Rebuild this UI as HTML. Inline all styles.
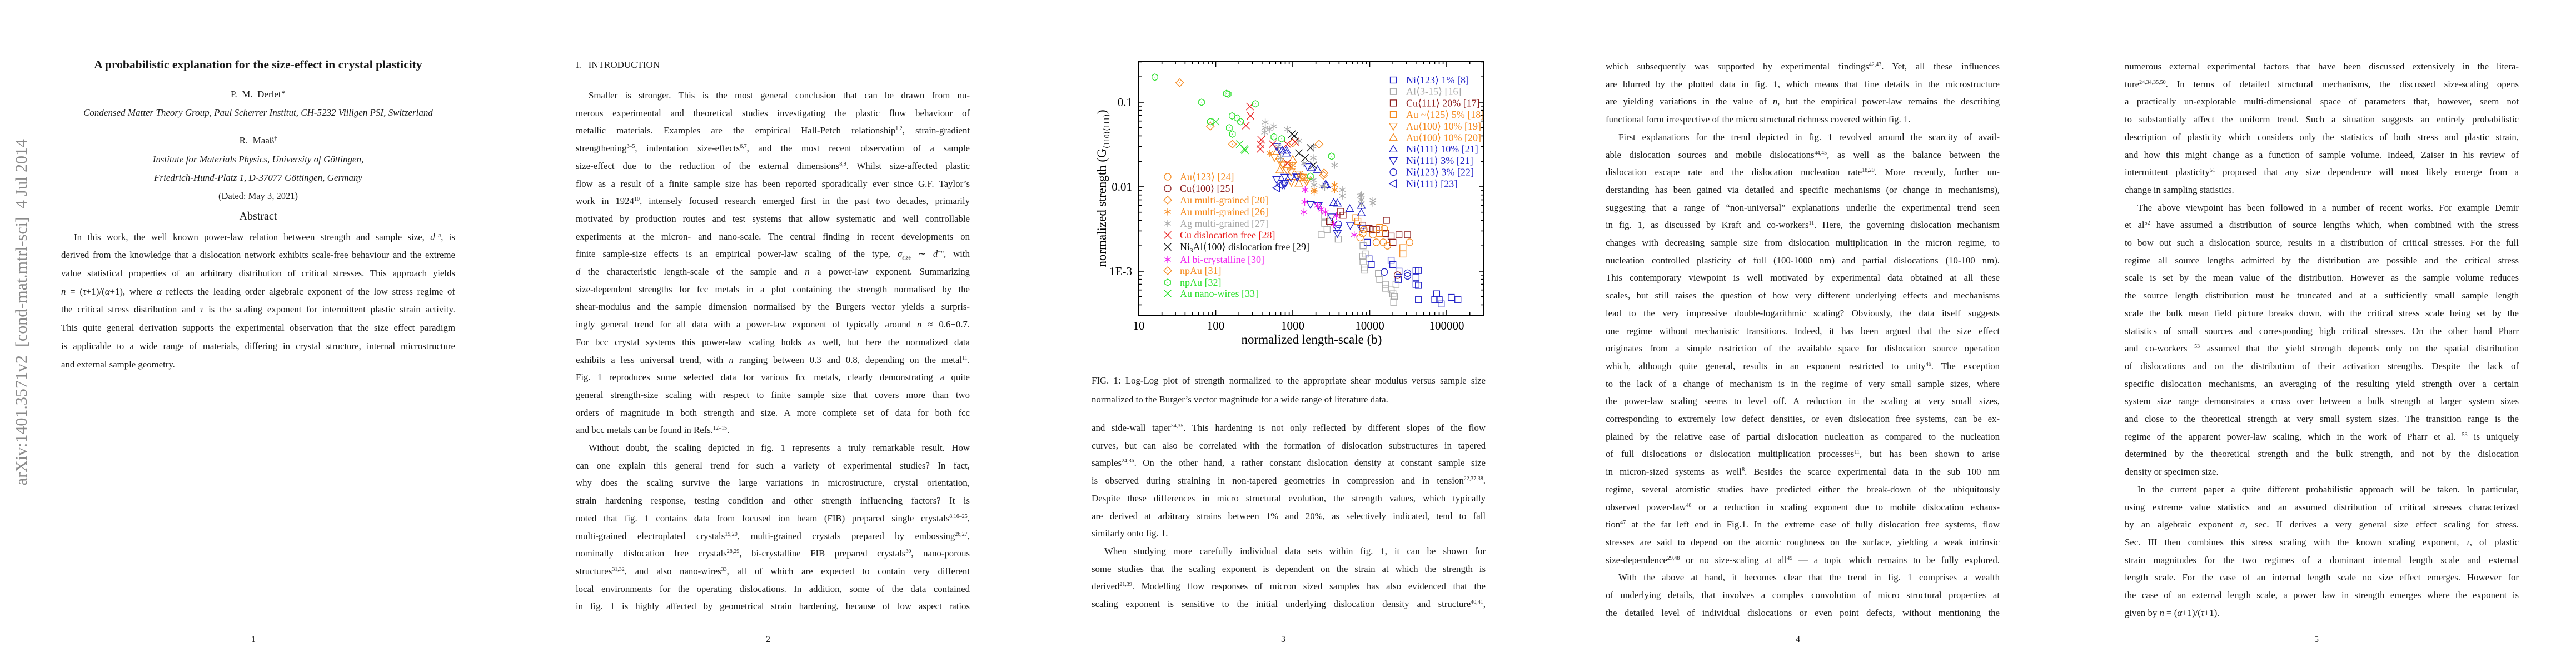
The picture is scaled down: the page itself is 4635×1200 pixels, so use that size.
<!DOCTYPE html>
<html>
<head>
<meta charset="utf-8">
<style>
  html,body{margin:0;padding:0;background:#fff;}
  body{width:4635px;height:1200px;position:relative;overflow:hidden;font-family:"Liberation Serif",serif;color:#1a1a1a;}
  .abs{position:absolute;}
  .col{position:absolute;width:709px;font-size:16.8px;}
  .col div{white-space:nowrap;text-align:justify;text-align-last:justify;}
  .col div.end{text-align-last:left;}
  .col div.ind{padding-left:23px;}
  sup{font-size:10px;line-height:0;vertical-align:6px;}
  .ctr{position:absolute;width:709px;text-align:center;white-space:nowrap;}
  .pn{position:absolute;top:1142px;font-size:16px;width:20px;text-align:center;}
  svg text{font-family:"Liberation Serif",serif;}
</style>
</head>
<body>

<div class="abs" style="left:22px;top:250px;writing-mode:vertical-rl;transform:rotate(180deg);font-size:30px;color:#8a8a8a;white-space:nowrap;">arXiv:1401.3571v2&nbsp;&nbsp;[cond-mat.mtrl-sci]&nbsp;&nbsp;4 Jul 2014</div>

<div class="ctr" style="left:110px;top:104px;font-size:21.5px;font-weight:bold;">A probabilistic explanation for the size-effect in crystal plasticity</div>
<div class="ctr" style="left:110px;top:160px;font-size:17px;">P.&nbsp; M.&nbsp; Derlet<sup>∗</sup></div>
<div class="ctr" style="left:110px;top:193px;font-size:17px;font-style:italic;">Condensed Matter Theory Group, Paul Scherrer Institut, CH-5232 Villigen PSI, Switzerland</div>
<div class="ctr" style="left:110px;top:243px;font-size:17px;">R.&nbsp; Maaß<sup>†</sup></div>
<div class="ctr" style="left:110px;top:277px;font-size:17px;font-style:italic;">Institute for Materials Physics, University of Göttingen,</div>
<div class="ctr" style="left:110px;top:310px;font-size:17px;font-style:italic;">Friedrich-Hund-Platz 1, D-37077 Göttingen, Germany</div>
<div class="ctr" style="left:110px;top:343px;font-size:16.5px;">(Dated: May 3, 2021)</div>
<div class="ctr" style="left:110px;top:378px;font-size:20px;">Abstract</div>

<div class="col" style="left:110px;top:410.6px;line-height:32.7px;">
<div class="ind">In this work, the well known power-law relation between strength and sample size, <i>d</i><sup>−<i>n</i></sup>, is</div>
<div>derived from the knowledge that a dislocation network exhibits scale-free behaviour and the extreme</div>
<div>value statistical properties of an arbitrary distribution of critical stresses. This approach yields</div>
<div><i>n</i> = (<i>τ</i>+1)/(<i>α</i>+1), where <i>α</i> reflects the leading order algebraic exponent of the low stress regime of</div>
<div>the critical stress distribution and <i>τ</i> is the scaling exponent for intermittent plastic strain activity.</div>
<div>This quite general derivation supports the experimental observation that the size effect paradigm</div>
<div>is applicable to a wide range of materials, differing in crystal structure, internal microstructure</div>
<div class="end">and external sample geometry.</div>
</div>
<div class="pn" style="left:446px;">1</div>

<div class="abs" style="left:1036px;top:107px;font-size:17px;white-space:nowrap;">I.&nbsp;&nbsp; INTRODUCTION</div>
<div class="col" style="left:1036px;top:156px;line-height:31.7px;">
<div class="ind">Smaller is stronger. This is the most general conclusion that can be drawn from nu-</div>
<div>merous experimental and theoretical studies investigating the plastic flow behaviour of</div>
<div>metallic materials. Examples are the empirical Hall-Petch relationship<sup>1,2</sup>, strain-gradient</div>
<div>strengthening<sup>3–5</sup>, indentation size-effects<sup>6,7</sup>, and the most recent observation of a sample</div>
<div>size-effect due to the reduction of the external dimensions<sup>8,9</sup>. Whilst size-affected plastic</div>
<div>flow as a result of a finite sample size has been reported sporadically ever since G.F. Taylor’s</div>
<div>work in 1924<sup>10</sup>, intensely focused research emerged first in the past two decades, primarily</div>
<div>motivated by production routes and test systems that allow systematic and well controllable</div>
<div>experiments at the micron- and nano-scale. The central finding in recent developments on</div>
<div>finite sample-size effects is an empirical power-law scaling of the type, <i>σ</i><sub style="font-size:10px;line-height:0">size</sub> ∼ <i>d</i><sup>−<i>n</i></sup>, with</div>
<div><i>d</i> the characteristic length-scale of the sample and <i>n</i> a power-law exponent. Summarizing</div>
<div>size-dependent strengths for fcc metals in a plot containing the strength normalised by the</div>
<div>shear-modulus and the sample dimension normalised by the Burgers vector yields a surpris-</div>
<div>ingly general trend for all data with a power-law exponent of typically around <i>n</i> ≈ 0.6−0.7.</div>
<div>For bcc crystal systems this power-law scaling holds as well, but here the normalized data</div>
<div>exhibits a less universal trend, with <i>n</i> ranging between 0.3 and 0.8, depending on the metal<sup>11</sup>.</div>
<div>Fig. 1 reproduces some selected data for various fcc metals, clearly demonstrating a quite</div>
<div>general strength-size scaling with respect to finite sample size that covers more than two</div>
<div>orders of magnitude in both strength and size. A more complete set of data for both fcc</div>
<div class="end">and bcc metals can be found in Refs.<sup>12–15</sup>.</div>
<div class="ind">Without doubt, the scaling depicted in fig. 1 represents a truly remarkable result. How</div>
<div>can one explain this general trend for such a variety of experimental studies? In fact,</div>
<div>why does the scaling survive the large variations in microstructure, crystal orientation,</div>
<div>strain hardening response, testing condition and other strength influencing factors? It is</div>
<div>noted that fig. 1 contains data from focused ion beam (FIB) prepared single crystals<sup>8,16–25</sup>,</div>
<div>multi-grained electroplated crystals<sup>19,20</sup>, multi-grained crystals prepared by embossing<sup>26,27</sup>,</div>
<div>nominally dislocation free crystals<sup>28,29</sup>, bi-crystalline FIB prepared crystals<sup>30</sup>, nano-porous</div>
<div>structures<sup>31,32</sup>, and also nano-wires<sup>33</sup>, all of which are expected to contain very different</div>
<div>local environments for the operating dislocations. In addition, some of the data contained</div>
<div>in fig. 1 is highly affected by geometrical strain hardening, because of low aspect ratios</div>
</div>
<div class="pn" style="left:1372px;">2</div>

<svg class="abs" id="chart" style="left:0;top:0;" width="4635" height="1200" viewBox="0 0 4635 1200">
  <g id="ticks"></g>
  <g id="marks"></g>
  <rect x="2049" y="111" width="621" height="456" fill="none" stroke="#000" stroke-width="2"/>
  <g id="ylabels" font-size="21" text-anchor="end"></g>
  <g id="xlabels" font-size="21" text-anchor="middle"></g>
  <text x="2360" y="618" font-size="23" text-anchor="middle">normalized length-scale (b)</text>
  <text transform="translate(1990,339) rotate(-90)" font-size="23" text-anchor="middle">normalized strength (G<tspan font-size="14" dy="6">⟨110⟩⟨111⟩</tspan><tspan dy="-6">)</tspan></text>
  <g id="legend-left" font-size="18"></g>
  <g id="legend-right" font-size="18"></g>
</svg>

<div class="col" style="left:1964px;top:668px;line-height:34px;">
<div>FIG. 1: Log-Log plot of strength normalized to the appropriate shear modulus versus sample size</div>
<div class="end">normalized to the Burger’s vector magnitude for a wide range of literature data.</div>
</div>
<div class="col" style="left:1964px;top:754px;line-height:31.7px;">
<div>and side-wall taper<sup>34,35</sup>. This hardening is not only reflected by different slopes of the flow</div>
<div>curves, but can also be correlated with the formation of dislocation substructures in tapered</div>
<div>samples<sup>24,36</sup>. On the other hand, a rather constant dislocation density at constant sample size</div>
<div>is observed during straining in non-tapered geometries in compression and in tension<sup>22,37,38</sup>.</div>
<div>Despite these differences in micro structural evolution, the strength values, which typically</div>
<div>are derived at arbitrary strains between 1% and 20%, as selectively indicated, tend to fall</div>
<div class="end">similarly onto fig. 1.</div>
<div class="ind">When studying more carefully individual data sets within fig. 1, it can be shown for</div>
<div>some studies that the scaling exponent is dependent on the strain at which the strength is</div>
<div>derived<sup>21,39</sup>. Modelling flow responses of micron sized samples has also evidenced that the</div>
<div>scaling exponent is sensitive to the initial underlying dislocation density and structure<sup>40,41</sup>,</div>
</div>
<div class="pn" style="left:2299px;">3</div>

<div class="col" style="left:2889px;top:104px;line-height:31.7px;">
<div>which subsequently was supported by experimental findings<sup>42,43</sup>. Yet, all these influences</div>
<div>are blurred by the plotted data in fig. 1, which means that fine details in the microstructure</div>
<div>are yielding variations in the value of <i>n</i>, but the empirical power-law remains the describing</div>
<div class="end">functional form irrespective of the micro structural richness covered within fig. 1.</div>
<div class="ind">First explanations for the trend depicted in fig. 1 revolved around the scarcity of avail-</div>
<div>able dislocation sources and mobile dislocations<sup>44,45</sup>, as well as the balance between the</div>
<div>dislocation escape rate and the dislocation nucleation rate<sup>18,20</sup>. More recently, further un-</div>
<div>derstanding has been gained via detailed and specific mechanisms (or change in mechanisms),</div>
<div>suggesting that a range of “non-universal” explanations underlie the experimental trend seen</div>
<div>in fig. 1, as discussed by Kraft and co-workers<sup>11</sup>. Here, the governing dislocation mechanism</div>
<div>changes with decreasing sample size from dislocation multiplication in the micron regime, to</div>
<div>nucleation controlled plasticity of full (100-1000 nm) and partial dislocations (10-100 nm).</div>
<div>This contemporary viewpoint is well motivated by experimental data obtained at all these</div>
<div>scales, but still raises the question of how very different underlying effects and mechanisms</div>
<div>lead to the very impressive double-logarithmic scaling? Obviously, the data itself suggests</div>
<div>one regime without mechanistic transitions. Indeed, it has been argued that the size effect</div>
<div>originates from a simple restriction of the available space for dislocation source operation</div>
<div>which, although quite general, results in an exponent restricted to unity<sup>46</sup>. The exception</div>
<div>to the lack of a change of mechanism is in the regime of very small sample sizes, where</div>
<div>the power-law scaling seems to level off. A reduction in the scaling at very small sizes,</div>
<div>corresponding to extremely low defect densities, or even dislocation free systems, can be ex-</div>
<div>plained by the relative ease of partial dislocation nucleation as compared to the nucleation</div>
<div>of full dislocations or dislocation multiplication processes<sup>11</sup>, but has been shown to arise</div>
<div>in micron-sized systems as well<sup>8</sup>. Besides the scarce experimental data in the sub 100 nm</div>
<div>regime, several atomistic studies have predicted either the break-down of the ubiquitously</div>
<div>observed power-law<sup>48</sup> or a reduction in scaling exponent due to mobile dislocation exhaus-</div>
<div>tion<sup>47</sup> at the far left end in Fig.1. In the extreme case of fully dislocation free systems, flow</div>
<div>stresses are said to depend on the atomic roughness on the surface, yielding a weak intrinsic</div>
<div>size-dependence<sup>29,48</sup> or no size-scaling at all<sup>49</sup> — a topic which remains to be fully explored.</div>
<div class="ind">With the above at hand, it becomes clear that the trend in fig. 1 comprises a wealth</div>
<div>of underlying details, that involves a complex convolution of micro structural properties at</div>
<div>the detailed level of individual dislocations or even point defects, without mentioning the</div>
</div>
<div class="pn" style="left:3225px;">4</div>

<div class="col" style="left:3823px;top:104px;line-height:31.7px;">
<div>numerous external experimental factors that have been discussed extensively in the litera-</div>
<div>ture<sup>24,34,35,50</sup>. In terms of detailed structural mechanisms, the discussed size-scaling opens</div>
<div>a practically un-explorable multi-dimensional space of parameters that, however, seem not</div>
<div>to substantially affect the uniform trend. Such a situation suggests an entirely probabilistic</div>
<div>description of plasticity which considers only the statistics of both stress and plastic strain,</div>
<div>and how this might change as a function of sample volume. Indeed, Zaiser in his review of</div>
<div>intermittent plasticity<sup>51</sup> proposed that any size dependence will most likely emerge from a</div>
<div class="end">change in sampling statistics.</div>
<div class="ind">The above viewpoint has been followed in a number of recent works. For example Demir</div>
<div>et al<sup>52</sup> have assumed a distribution of source lengths which, when combined with the stress</div>
<div>to bow out such a dislocation source, results in a distribution of critical stresses. For the full</div>
<div>regime all source lengths admitted by the distribution are possible and the critical stress</div>
<div>scale is set by the mean value of the distribution. However as the sample volume reduces</div>
<div>the source length distribution must be truncated and at a sufficiently small sample length</div>
<div>scale the bulk mean field picture breaks down, with the critical stress scale being set by the</div>
<div>statistics of small sources and corresponding high critical stresses. On the other hand Pharr</div>
<div>and co-workers <sup>53</sup> assumed that the yield strength depends only on the spatial distribution</div>
<div>of dislocations and on the distribution of their activation strengths. Despite the lack of</div>
<div>specific dislocation mechanisms, an averaging of the resulting yield strength over a certain</div>
<div>system size range demonstrates a cross over between a bulk strength at larger system sizes</div>
<div>and close to the theoretical strength at very small system sizes. The transition range is the</div>
<div>regime of the apparent power-law scaling, which in the work of Pharr et al. <sup>53</sup> is uniquely</div>
<div>determined by the theoretical strength and the bulk strength, and not by the dislocation</div>
<div class="end">density or specimen size.</div>
<div class="ind">In the current paper a quite different probabilistic approach will be taken. In particular,</div>
<div>using extreme value statistics and an assumed distribution of critical stresses characterized</div>
<div>by an algebraic exponent <i>α</i>, sec. II derives a very general size effect scaling for stress.</div>
<div>Sec. III then combines this stress scaling with the known scaling exponent, <i>τ</i>, of plastic</div>
<div>strain magnitudes for the two regimes of a dominant internal length scale and external</div>
<div>length scale. For the case of an internal length scale no size effect emerges. However for</div>
<div>the case of an external length scale, a power law in strength emerges where the exponent is</div>
<div class="end">given by <i>n</i> = (<i>α</i>+1)/(<i>τ</i>+1).</div>
</div>
<div class="pn" style="left:4158px;">5</div>

<script>
const xTickValues = [10, 100, 1000, 10000, 100000];
const xTickLabels = ["10", "100", "1000", "10000", "100000"];
const yTickValues = [0.1, 0.01, 0.001];
const yTickLabels = ["0.1", "0.01", "1E-3"];

const ni123_1_x = [9300, 9800, 10500, 19000, 20000, 24000, 23500, 40000, 40000, 40000, 43000, 43000, 43000, 74000, 70000, 80000, 85000, 115000, 140000];
const ni123_1_y = [0.0022, 0.0014, 0.0012, 0.00135, 0.0012, 0.0010, 0.0008, 0.00102, 0.00085, 0.0007, 0.00102, 0.00068, 0.00046, 0.00054, 0.00046, 0.00046, 0.00041, 0.00049, 0.00046];
const al315_x = [2350, 2800, 2600, 2600, 3900, 8200, 8900, 8100, 8200, 8500, 8600, 13000, 13500, 16000, 16000, 19000, 20000, 20500, 21000, 22000];
const al315_y = [0.0027, 0.0031, 0.0037, 0.0045, 0.0024, 0.0020, 0.0016, 0.0015, 0.0013, 0.0011, 0.00103, 0.00094, 0.0008, 0.0007, 0.00063, 0.0006, 0.00054, 0.00043, 0.0005, 0.0007];
const cu111_x = [4200, 4500, 3000, 8100, 9800, 11000, 12200, 16500, 16000, 19000, 20000, 24000, 31000];
const cu111_y = [0.0051, 0.0046, 0.0039, 0.0035, 0.0032, 0.0031, 0.0031, 0.0040, 0.0028, 0.0026, 0.0022, 0.0027, 0.0027];
const au125_x = [6600, 7000, 13500, 13500, 27000, 27000];
const au125_y = [0.0043, 0.0039, 0.0033, 0.0028, 0.0019, 0.0016];
const au100_19_x = [580, 680, 760, 850, 950, 1200, 1350, 1560, 740, 960, 1500];
const au100_19_y = [0.0223, 0.020, 0.018, 0.0155, 0.015, 0.0142, 0.013, 0.012, 0.0185, 0.0113, 0.0116];
const au100_20_x = [680, 870, 1200, 1400, 620, 1000];
const au100_20_y = [0.0158, 0.018, 0.011, 0.0128, 0.026, 0.021];
const ni111_10_x = [730, 830, 1750, 2100, 2750, 2650, 3400, 3800, 5500, 7800, 7800, 830];
const ni111_10_y = [0.027, 0.025, 0.0168, 0.016, 0.0105, 0.0106, 0.0065, 0.0064, 0.0055, 0.006, 0.0049, 0.027];
const ni111_3_x = [620, 760, 780, 950, 1120, 1560, 620, 680, 790, 790, 1150, 1700, 2150, 3200, 3800, 3800, 5600, 7800];
const ni111_3_y = [0.0122, 0.011, 0.0105, 0.0128, 0.0133, 0.0173, 0.030, 0.027, 0.013, 0.011, 0.013, 0.0062, 0.006, 0.0044, 0.0032, 0.0028, 0.0035, 0.0032];
const ni123_3_x = [3900, 15500, 31000, 31000];
const ni123_3_y = [0.0036, 0.00098, 0.00095, 0.00088];
const ni111_23_x = [620, 680];
const ni111_23_y = [0.0097, 0.0105];
const au123_x = [7500, 8100, 8400, 11000, 12200, 15000, 17000, 15500, 33000];
const au123_y = [0.0025, 0.0028, 0.0031, 0.0027, 0.0022, 0.0022, 0.0020, 0.0032, 0.0022];
const cu100_x = [23000];
const cu100_y = [0.0009];
const aumg20_x = [1000, 2500];
const aumg20_y = [0.033, 0.0137];
const aumg26_x = [505, 1000, 1250, 1900, 1900, 3500, 3500];
const aumg26_y = [0.025, 0.018, 0.0137, 0.0092, 0.0087, 0.0105, 0.0092];
const agmg27_x = [440, 440, 430, 505, 570, 850, 1200, 1850, 3500, 1850, 1400, 1850, 2600, 4400, 7600, 11000, 4400, 7800, 7800, 7800, 11000, 2400, 1900, 650, 700];
const agmg27_y = [0.058, 0.050, 0.044, 0.048, 0.052, 0.048, 0.035, 0.030, 0.018, 0.022, 0.019, 0.012, 0.0099, 0.0092, 0.0078, 0.0069, 0.0078, 0.008, 0.0063, 0.0070, 0.0064, 0.0102, 0.0105, 0.030, 0.022];
const cudf28_x = [278, 283, 247, 390, 380, 380, 550, 850, 1070, 850];
const cudf28_y = [0.089, 0.069, 0.053, 0.036, 0.032, 0.028, 0.032, 0.032, 0.034, 0.019];
const ni3al29_x = [980, 1050, 1700, 1200, 1450, 1850];
const ni3al29_y = [0.042, 0.040, 0.029, 0.025, 0.022, 0.018];
const albi30_x = [1450, 1430, 1400, 2100, 2350, 2650, 3400, 3700, 6300];
const albi30_y = [0.0092, 0.0066, 0.0050, 0.0060, 0.0054, 0.0050, 0.0036, 0.0045, 0.0027];
const npau31_x = [34, 85, 165, 2200, 2550];
const npau31_y = [0.17, 0.052, 0.032, 0.032, 0.0146];
const npau32_x = [16.2, 65.5, 138, 145, 328, 85, 163, 190, 210, 150, 165, 570, 720, 3200, 1700];
const npau32_y = [0.198, 0.1, 0.127, 0.125, 0.096, 0.059, 0.069, 0.065, 0.059, 0.050, 0.042, 0.039, 0.037, 0.023, 0.0133];
const aunw33_x = [100, 205, 235, 240];
const aunw33_y = [0.059, 0.032, 0.028, 0.027];

const BLUE = "#2323c8", GRAY = "#a8a8a8", BROWN = "#8b1c1c", ORANGE = "#f58a1f", GREEN = "#2ee02e", RED = "#e81818", MAG = "#f020f0", BLACK = "#111";

const series = [
  {name: "ni123-1pct", xs: ni123_1_x, ys: ni123_1_y, m: "square", c: BLUE},
  {name: "al-3-15", xs: al315_x, ys: al315_y, m: "square", c: GRAY},
  {name: "cu111-20pct", xs: cu111_x, ys: cu111_y, m: "square", c: BROWN},
  {name: "au125-5pct", xs: au125_x, ys: au125_y, m: "square", c: ORANGE},
  {name: "au100-10pct-19", xs: au100_19_x, ys: au100_19_y, m: "tdown", c: ORANGE},
  {name: "au100-10pct-20", xs: au100_20_x, ys: au100_20_y, m: "tup", c: ORANGE},
  {name: "ni111-10pct", xs: ni111_10_x, ys: ni111_10_y, m: "tup", c: BLUE},
  {name: "ni111-3pct", xs: ni111_3_x, ys: ni111_3_y, m: "tdown", c: BLUE},
  {name: "ni123-3pct", xs: ni123_3_x, ys: ni123_3_y, m: "circle", c: BLUE},
  {name: "ni111-23", xs: ni111_23_x, ys: ni111_23_y, m: "tleft", c: BLUE},
  {name: "au123", xs: au123_x, ys: au123_y, m: "circle", c: ORANGE},
  {name: "cu100", xs: cu100_x, ys: cu100_y, m: "circle", c: BROWN},
  {name: "au-multigrained-20", xs: aumg20_x, ys: aumg20_y, m: "diamond", c: ORANGE},
  {name: "au-multigrained-26", xs: aumg26_x, ys: aumg26_y, m: "star", c: ORANGE},
  {name: "ag-multigrained-27", xs: agmg27_x, ys: agmg27_y, m: "star", c: GRAY},
  {name: "cu-dislocation-free", xs: cudf28_x, ys: cudf28_y, m: "x", c: RED},
  {name: "ni3al-dislocation-free", xs: ni3al29_x, ys: ni3al29_y, m: "x", c: BLACK},
  {name: "al-bicrystalline", xs: albi30_x, ys: albi30_y, m: "star", c: MAG},
  {name: "npau-31", xs: npau31_x, ys: npau31_y, m: "diamonddot", c: ORANGE},
  {name: "npau-32", xs: npau32_x, ys: npau32_y, m: "hexdot", c: GREEN},
  {name: "au-nanowires", xs: aunw33_x, ys: aunw33_y, m: "x", c: GREEN}
];

const legendLeft = [
  {label: "Au⟨123⟩ [24]", m: "circle", c: ORANGE},
  {label: "Cu⟨100⟩ [25]", m: "circle", c: BROWN},
  {label: "Au multi-grained [20]", m: "diamond", c: ORANGE},
  {label: "Au multi-grained [26]", m: "star", c: ORANGE},
  {label: "Ag multi-grained [27]", m: "star", c: GRAY},
  {label: "Cu dislocation free [28]", m: "x", c: RED},
  {label: "Ni3Al⟨100⟩ dislocation free [29]", m: "x", c: BLACK},
  {label: "Al bi-crystalline [30]", m: "star", c: MAG},
  {label: "npAu [31]", m: "diamonddot", c: ORANGE},
  {label: "npAu [32]", m: "hexdot", c: GREEN},
  {label: "Au nano-wires [33]", m: "x", c: GREEN}
];
const legendLeftY = [318, 339, 360, 381, 402, 423, 444, 467, 487, 508, 528];
const legendRight = [
  {label: "Ni⟨123⟩ 1% [8]", m: "square", c: BLUE},
  {label: "Al⟨3-15⟩ [16]", m: "square", c: GRAY},
  {label: "Cu⟨111⟩ 20% [17]", m: "square", c: BROWN},
  {label: "Au ~⟨125⟩ 5% [18]", m: "square", c: ORANGE},
  {label: "Au⟨100⟩ 10% [19]", m: "tdown", c: ORANGE},
  {label: "Au⟨100⟩ 10% [20]", m: "tup", c: ORANGE},
  {label: "Ni⟨111⟩ 10% [21]", m: "tup", c: BLUE},
  {label: "Ni⟨111⟩ 3% [21]", m: "tdown", c: BLUE},
  {label: "Ni⟨123⟩ 3% [22]", m: "circle", c: BLUE},
  {label: "Ni⟨111⟩ [23]", m: "tleft", c: BLUE}
];

const PX0 = 2049, PX1 = 2670, PY0 = 567, PY1 = 111;
const XMIN = 1, XMAX = 5.484, YMIN = -3.52, YMAX = -0.52;
function xScale(v) { return PX0 + (Math.log10(v) - XMIN) / (XMAX - XMIN) * (PX1 - PX0); }
function yScale(v) { return PY0 - (Math.log10(v) - YMIN) / (YMAX - YMIN) * (PY0 - PY1); }

const NS = "http://www.w3.org/2000/svg";
function mk(tag, attrs, parent) {
  const e = document.createElementNS(NS, tag);
  for (const k in attrs) e.setAttribute(k, attrs[k]);
  parent.appendChild(e);
  return e;
}

const tickG = document.getElementById("ticks");
function tickLine(x1, y1, x2, y2) {
  const l = mk("line", {x1: x1, y1: y1, x2: x2, y2: y2, stroke: "#000", "stroke-width": 1.6}, tickG);
  
  
}
for (let d = 1; d <= 5; d++) {
  for (let m = 1; m <= 9; m++) {
    const v = m * Math.pow(10, d);
    if (Math.log10(v) > XMAX) continue;
    const x = xScale(v), len = m === 1 ? 9 : 5;
    tickLine(x, PY0, x, PY0 - len);
    tickLine(x, PY1, x, PY1 + len);
  }
}
for (let d = -4; d <= -1; d++) {
  for (let m = 1; m <= 9; m++) {
    const v = m * Math.pow(10, d);
    const lv = Math.log10(v);
    if (lv < YMIN || lv > YMAX) continue;
    const y = yScale(v), len = m === 1 ? 9 : 5;
    tickLine(PX0, y, PX0 + len, y);
    tickLine(PX1, y, PX1 - len, y);
  }
}
const xlG = document.getElementById("xlabels");
xTickValues.forEach((v, i) => {
  const t = mk("text", {x: xScale(v), y: 593}, xlG);
  t.textContent = xTickLabels[i];
  
  
});
const ylG = document.getElementById("ylabels");
yTickValues.forEach((v, i) => {
  const t = mk("text", {x: 2037, y: yScale(v) + 7}, ylG);
  t.textContent = yTickLabels[i];
  
  
});

function marker(kind, x, y, c, parent) {
  const r = 5.5, sw = 1.3;
  const base = {fill: "none", stroke: c, "stroke-width": sw};
  let e;
  function P(pts) { return Object.assign({points: pts.map(p => p[0].toFixed(1) + "," + p[1].toFixed(1)).join(" ")}, base); }
  if (kind === "square") {
    e = mk("rect", Object.assign({x: x - r, y: y - r, width: 2 * r, height: 2 * r}, base), parent);
  } else if (kind === "circle") {
    e = mk("circle", Object.assign({cx: x, cy: y, r: r + 0.5}, base), parent);
  } else if (kind === "diamond" || kind === "diamonddot") {
    const q = r + 1.5;
    e = mk("polygon", P([[x, y - q], [x + q, y], [x, y + q], [x - q, y]]), parent);
    if (kind === "diamonddot") mk("circle", {cx: x, cy: y, r: 0.7, fill: c}, parent);
  } else if (kind === "tup") {
    const q = r + 1.5;
    e = mk("polygon", P([[x, y - q], [x + q, y + q * 0.75], [x - q, y + q * 0.75]]), parent);
  } else if (kind === "tdown") {
    const q = r + 1.5;
    e = mk("polygon", P([[x, y + q], [x + q, y - q * 0.75], [x - q, y - q * 0.75]]), parent);
  } else if (kind === "tleft") {
    const q = r + 1.5;
    e = mk("polygon", P([[x - q, y], [x + q * 0.75, y - q], [x + q * 0.75, y + q]]), parent);
  } else if (kind === "hexdot") {
    const pts = [];
    for (let k = 0; k < 6; k++) { const a = Math.PI / 6 + k * Math.PI / 3; pts.push([x + (r + 0.5) * Math.cos(a), y + (r + 0.5) * Math.sin(a)]); }
    e = mk("polygon", P(pts), parent);
    mk("circle", {cx: x, cy: y, r: 0.7, fill: c}, parent);
  } else if (kind === "x") {
    const q = r + 1;
    e = mk("path", Object.assign({d: `M${x - q},${y - q}L${x + q},${y + q}M${x - q},${y + q}L${x + q},${y - q}`}, base), parent);
  } else if (kind === "star") {
    const q = r + 1;
    let d = `M${x},${y - q}L${x},${y + q}`;
    d += `M${x - q * 0.87},${y - q * 0.5}L${x + q * 0.87},${y + q * 0.5}`;
    d += `M${x - q * 0.87},${y + q * 0.5}L${x + q * 0.87},${y - q * 0.5}`;
    e = mk("path", Object.assign({d: d}, base), parent);
  }
  return e;
}

const marksG = document.getElementById("marks");
series.forEach(s => {
  const g = mk("g", {}, marksG);
  
  
  s.xs.forEach((xv, i) => {
    const m = marker(s.m, xScale(xv), yScale(s.ys[i]), s.c, g);
    
    
  });
});

const lgL = document.getElementById("legend-left");
legendLeft.forEach((it, i) => {
  const y = legendLeftY[i];
  const g = mk("g", {}, lgL);
  
  
  marker(it.m, 2101, y, it.c, g);
  const t = mk("text", {x: 2123, y: y + 6, fill: it.c}, g);
  if (it.label.indexOf("Ni3Al") === 0) {
    t.textContent = "Ni";
    const s1 = mk("tspan", {"font-size": 11, dy: 4}, t); s1.textContent = "3";
    const s2 = mk("tspan", {dy: -4}, t); s2.textContent = "Al⟨100⟩ dislocation free [29]";
  } else {
    t.textContent = it.label;
  }
});
const lgR = document.getElementById("legend-right");
legendRight.forEach((it, i) => {
  const y = 144 + i * 20.7;
  const g = mk("g", {}, lgR);
  
  
  marker(it.m, 2507, y, it.c, g);
  const t = mk("text", {x: 2530, y: y + 6, fill: it.c}, g);
  t.textContent = it.label;
});
</script>
</body>
</html>
